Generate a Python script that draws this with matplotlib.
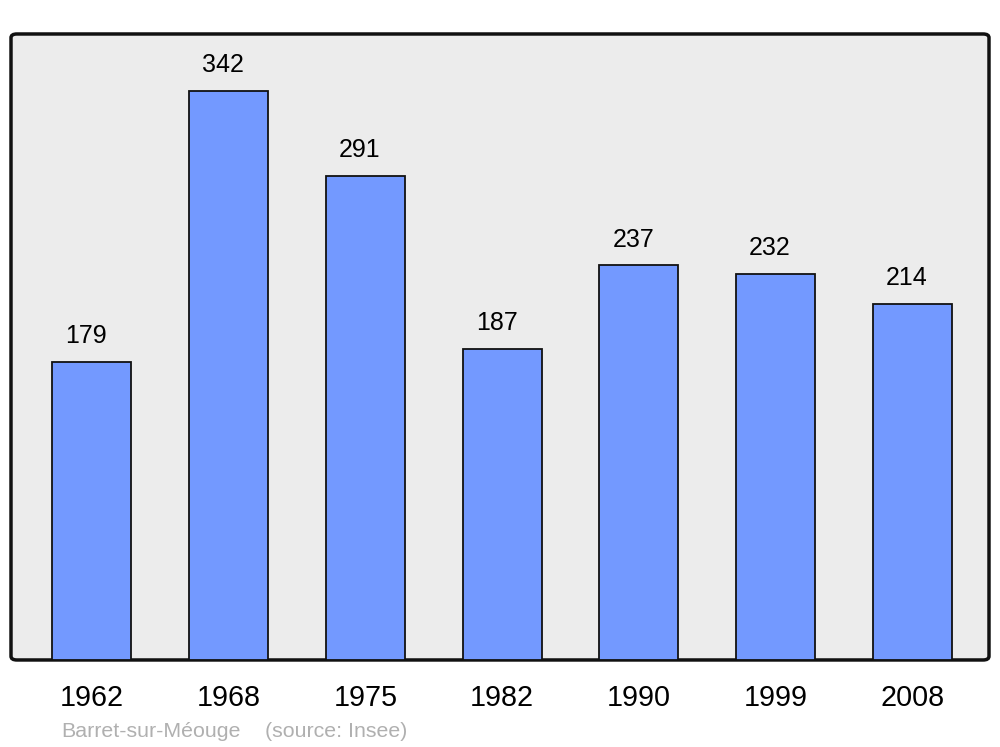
import matplotlib.pyplot as plt
from matplotlib.patches import FancyBboxPatch

# population data
years = ['1962', '1968', '1975', '1982', '1990', '1999', '2008']
population = [179, 342, 291, 187, 237, 232, 214]

plt.rcParams['font.family'] = ['Liberation Sans', 'DejaVu Sans']

fig = plt.figure(figsize=(10, 7.47), dpi=100)
ax = fig.add_axes([0.011, 0.1165, 0.978, 0.838])
ax.set_facecolor('none')

# rounded grey frame
frame = FancyBboxPatch((0, 0), 1, 1, boxstyle='round,pad=0,rounding_size=0.006',
                       transform=ax.transAxes, facecolor='#ececec', edgecolor='#111111',
                       linewidth=2.5, zorder=0, clip_on=False)
ax.add_patch(frame)

x = range(len(years))
bars = ax.bar(x, population, width=0.578, color='#7399ff', edgecolor='#111111',
              linewidth=1.3, zorder=2)

for xi, v in zip(x, population):
    ax.annotate(str(v), (xi, v), xytext=(-4, 18.5), textcoords='offset points',
                ha='center', va='center', fontsize=18, color='black')

ax.set_xlim(-0.592, 6.56)
ax.set_ylim(0, 376)
ax.set_xticks(list(x))
ax.set_xticklabels(years, fontsize=20.7)
ax.tick_params(axis='x', length=0, pad=17)
ax.set_yticks([])
for s in ax.spines.values():
    s.set_visible(False)

fig.text(0.061, 0.021, 'Barret-sur-Méouge', color='#b0b0b0', fontsize=15.4, va='center')
fig.text(0.265, 0.021, '(source: Insee)', color='#b0b0b0', fontsize=15.4, va='center')

fig.savefig('out.png', dpi=100)
